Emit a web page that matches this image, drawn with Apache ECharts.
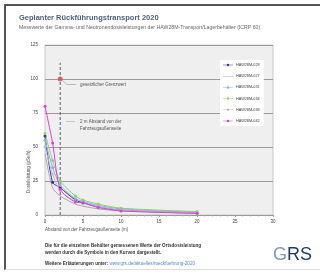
<!DOCTYPE html>
<html lang="de">
<head>
    <meta charset="UTF-8">
    <title>Rückführungstransport 2020</title>
    <script src="https://cdn.jsdelivr.net/npm/echarts@6/dist/echarts.min.js"></script>
    <style>
        html, body { margin: 0; padding: 0; background: #fff; }
        #frame { position: absolute; left: 4px; top: 4px; width: 318px; height: 266px;
                 border-left: 2px solid #555; border-top: 2px solid #555; border-bottom: 1px solid #ddd; box-sizing: border-box; }
        #main { position: absolute; left: 0; top: 0; width: 320px; height: 275px; }
    </style>
</head>
<body>
    <div id="frame"></div>
    <div id="main"></div>
    <script type="text/javascript">
    // Abstand in m
    var distances = [0, 1, 2, 4, 5, 7, 10, 20];
    var seriesNames = ['HAW28M-028', 'HAW28M-027', 'HAW28M-031', 'HAW28M-034', 'HAW28M-038', 'HAW28M-042'];
    // Dosisleistung in µSv/h
    var haw028 = [58, 24, 20, 11, 9, 6, 3.5, 1.5];
    var haw027 = [45, 20, 14, 8, 6.5, 4.5, 3, 1.2];
    var haw031 = [55, 35, 22, 12, 10, 7, 4.5, 2];
    var haw034 = [60, 40, 25, 14, 11, 8, 5, 2.5];
    var haw038 = [50, 30, 18, 10, 8.5, 6, 3.5, 1.5];
    var haw042 = [80, 53, 19, 9.5, 9, 5.5, 3, 1.2];
    var yTicks = [0, 25, 50, 75, 100, 125];
    var xTicks = [0, 5, 10, 15, 20, 25, 30];
    var grenzwert = [2, 100];
    var abstandLinie = [[2, 0], [2, 112]];

    var colors = ['#3a3a8c', '#a8a8a8', '#86b4d8', '#8fcf6c', '#bcbce4', '#e03ce0'];
    var allValues = [haw028, haw027, haw031, haw034, haw038, haw042];
    var font = 'Liberation Sans, Arial, sans-serif';

    // Legendensymbole: Linie mit Punkt, bzw. nur Linie
    var iconDot = 'path://M0,5L40,5L40,7L0,7Z M20,1A5,5 0 1,1 20,11A5,5 0 1,1 20,1Z';
    var iconLine = 'path://M0,5L40,5L40,7L0,7Z';

    var myChart = echarts.init(document.getElementById('main'));

    var series = seriesNames.map(function (name, i) {
        return {
            name: name,
            type: 'line',
            smooth: 0.25,
            symbol: 'circle',
            symbolSize: i === 1 ? 0 : 3,
            showSymbol: i !== 1,
            lineStyle: { width: 1, color: colors[i] },
            itemStyle: { color: colors[i] },
            data: distances.map(function (d, j) { return [d, allValues[i][j]]; }),
            z: 3
        };
    });

    series.push({
        name: 'abstand',
        type: 'line',
        data: abstandLinie,
        symbol: 'none',
        lineStyle: { color: '#556070', width: 1, type: [3, 2] },
        silent: true,
        z: 2
    });
    series.push({
        name: 'grenzwert',
        type: 'scatter',
        data: [grenzwert],
        symbol: 'circle',
        symbolSize: 5,
        itemStyle: { color: '#e04848' },
        z: 5
    });

    var option = {
        animation: false,
        backgroundColor: 'transparent',
        textStyle: { fontFamily: font },
        title: {
            text: 'Geplanter Rückführungstransport 2020',
            subtext: 'Messwerte der Gamma- und Neutronendosisleistungen der HAW28M-Transport/Lagerbehälter (ICRP 60)',
            left: 14,
            top: 9,
            itemGap: 3,
            textStyle: { fontSize: 7.5, fontWeight: 'bold', color: '#52607e', fontFamily: font },
            subtextStyle: { fontSize: 5.2, color: '#666', fontFamily: font }
        },
        legend: {
            data: seriesNames.map(function (n, i) {
                return { name: n, icon: i === 1 ? iconLine : iconDot };
            }),
            orient: 'vertical',
            left: 220,
            top: 60,
            padding: [3, 4, 3, 3],
            backgroundColor: '#fff',
            itemWidth: 10,
            itemHeight: 3,
            itemGap: 7.2,
            symbolKeepAspect: true,
            textStyle: { fontSize: 3.8, color: '#444', fontFamily: font, padding: [0, 0, 0, -2] }
        },
        grid: {
            left: 45, top: 45, width: 228, height: 170,
            show: true, backgroundColor: '#efefef', borderColor: '#c8c8c8', borderWidth: 1
        },
        xAxis: {
            type: 'value',
            min: xTicks[0], max: xTicks[xTicks.length - 1], interval: 5,
            axisLine: { show: true, lineStyle: { color: '#999' } },
            axisTick: { show: true, length: 2, lineStyle: { color: '#999' } },
            minorTick: { show: true, splitNumber: 5, length: 1.5, lineStyle: { color: '#aaa' } },
            splitLine: { show: false },
            axisLabel: { fontSize: 4.5, color: '#444', margin: 4 }
        },
        yAxis: {
            type: 'value',
            min: yTicks[0], max: yTicks[yTicks.length - 1], interval: 25,
            axisLine: { show: false },
            axisTick: { show: false },
            splitLine: { show: true, lineStyle: { color: '#9a9a9a', width: 1 } },
            axisLabel: { fontSize: 4.5, color: '#444', margin: 7 }
        },
        graphic: [
            // Achsentitel
            { type: 'text', left: 45, top: 227, style: { text: 'Abstand von der Fahrzeugaußenseite (m)', fontSize: 4.5, fill: '#555', fontFamily: font } },
            { type: 'text', x: 26, y: 193, rotation: Math.PI / 2, style: { text: 'Dosisleistung (µSv/h)', fontSize: 4.5, fill: '#555', fontFamily: font } },
            // Anmerkungen
            { type: 'line', shape: { x1: 63, y1: 81, x2: 67, y2: 84.5 }, style: { stroke: '#999', lineWidth: 0.6 } },
            { type: 'line', shape: { x1: 67, y1: 84.5, x2: 76, y2: 84.5 }, style: { stroke: '#999', lineWidth: 0.6 } },
            { type: 'text', left: 80, top: 82, style: { text: 'gesetzlicher Grenzwert', fontSize: 4.5, fill: '#555', fontFamily: font } },
            { type: 'line', shape: { x1: 66, y1: 121.5, x2: 75, y2: 121.5 }, style: { stroke: '#aaa', lineWidth: 0.6 } },
            { type: 'text', left: 80, top: 118, style: { text: '2 m Abstand von der\nFahrzeugaußenseite', fontSize: 4.5, lineHeight: 7, fill: '#555', fontFamily: font } },
            // Fußnoten
            { type: 'text', left: 45, top: 242, style: { text: 'Die für die einzelnen Behälter gemessenen Werte der Ortsdosisleistung\nwerden durch die Symbole in den Kurven dargestellt.', fontSize: 4.6, lineHeight: 7.3, fill: '#333', fontWeight: 'bold', fontFamily: font } },
            { type: 'text', left: 45, top: 261, style: {
                text: '{a|Weitere Erläuterungen unter: }{b|www.grs.de/aktuelles/rueckfuehrung-2020}',
                rich: {
                    a: { fontSize: 4.6, fill: '#333', fontWeight: 'bold', fontFamily: font },
                    b: { fontSize: 4.6, fill: '#5a86c8', fontFamily: font }
                }
            } },
            // Logo
            { type: 'text', left: 273, top: 246, style: {
                text: '{g|G}{r|RS}',
                rich: {
                    g: { fontSize: 18, fill: '#7d98b8', fontFamily: font },
                    r: { fontSize: 18, fill: '#1f3a64', fontFamily: font }
                }
            } }
        ],
        series: series
    };

    myChart.setOption(option);
    </script>
</body>
</html>
